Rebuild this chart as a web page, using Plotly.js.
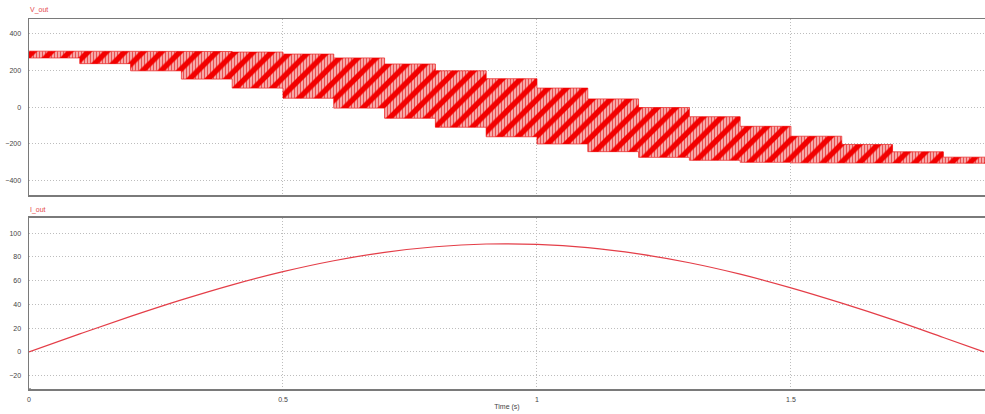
<!DOCTYPE html>
<html>
<head>
<meta charset="utf-8">
<script src="https://cdn.plot.ly/plotly-3.0.1.min.js"></script>
<style>
  html, body { margin: 0; padding: 0; background: #ffffff; }
  #chart { width: 985px; height: 414px; }
</style>
</head>
<body>
<div id="chart"></div>
<script>
// Switching-level edges of the output voltage (s)
const segEdges = [0, 0.1, 0.2, 0.3, 0.4, 0.5, 0.6, 0.7, 0.8, 0.9, 1.0,
                  1.1, 1.2, 1.3, 1.4, 1.5, 1.6, 1.7, 1.8, 1.9];
// Upper and lower switching level in each interval (V)
const vTop    = [305, 305, 305, 303, 300, 289, 268, 235, 198, 155, 104,
                 45, -2, -52, -104, -158, -203, -243, -272];
const vBottom = [268, 237, 198, 153, 104, 49, -5, -60, -109, -161, -200,
                 -242, -273, -289, -300, -303, -305, -305, -305];

// Output current samples
const tI   = [0, 0.1, 0.2, 0.3, 0.4, 0.5, 0.6, 0.7, 0.8, 0.9, 1.0,
              1.1, 1.2, 1.3, 1.4, 1.5, 1.6, 1.7, 1.8, 1.88];
const iOut = [0, 15.1, 29.8, 43.7, 56.4, 67.5, 76.7, 83.8, 88.5, 90.8, 90.5,
              87.8, 82.5, 75.0, 65.4, 53.9, 41.0, 27.1, 12.1, 0];

// Tick values
const xTicks  = [0, 0.5, 1, 1.5];
const vTicks  = [-400, -200, 0, 200, 400];
const iTicks  = [-20, 0, 20, 40, 60, 80, 100];

// Outline of the switching band: along the upper levels, back along the lower ones
const bandX = [], bandY = [];
for (let k = 0; k < vTop.length; k++) {
  bandX.push(segEdges[k], segEdges[k + 1]);
  bandY.push(vTop[k], vTop[k]);
}
for (let k = vBottom.length - 1; k >= 0; k--) {
  bandX.push(segEdges[k + 1], segEdges[k]);
  bandY.push(vBottom[k], vBottom[k]);
}
bandX.push(bandX[0]);
bandY.push(bandY[0]);

const traces = [
  {
    x: bandX, y: bandY, xaxis: 'x', yaxis: 'y',
    type: 'scatter', mode: 'lines', fill: 'toself',
    fillcolor: 'rgb(244,150,150)',
    fillpattern: { shape: '|', fgcolor: 'rgb(232,80,80)', bgcolor: 'rgb(247,168,168)', size: 3, solidity: 0.35 },
    line: { color: 'rgb(236,50,50)', width: 0.8 },
    hoverinfo: 'skip'
  },
  {
    x: bandX, y: bandY, xaxis: 'x', yaxis: 'y',
    type: 'scatter', mode: 'lines', fill: 'toself',
    fillcolor: 'rgba(0,0,0,0)',
    fillpattern: { shape: '/', fgcolor: 'rgb(242,0,0)', bgcolor: 'rgba(0,0,0,0)', size: 13, solidity: 0.42 },
    line: { width: 0 },
    hoverinfo: 'skip'
  },
  {
    x: tI, y: iOut, xaxis: 'x2', yaxis: 'y2',
    type: 'scatter', mode: 'lines',
    line: { color: 'rgb(228,62,72)', width: 1.2, shape: 'spline', smoothing: 1 },
    hoverinfo: 'skip'
  }
];

const tickFont = { family: 'Liberation Sans, Arial, sans-serif', size: 7, color: '#444444' };
const gridCommon = {
  showgrid: true, gridcolor: '#bdbdbd', gridwidth: 1, griddash: '1px,2px',
  zeroline: false, showline: true, linecolor: '#7a7a7a', linewidth: 1.5,
  ticks: '', tickfont: tickFont, fixedrange: true
};

const layout = {
  width: 985, height: 414,
  margin: { l: 29, r: 0, t: 19, b: 25, pad: 0 },
  paper_bgcolor: '#ffffff', plot_bgcolor: '#ffffff',
  showlegend: false,
  xaxis: Object.assign({}, gridCommon, {
    domain: [0, 1], anchor: 'y', range: [0, 1.882],
    tickvals: xTicks, showticklabels: false, mirror: true
  }),
  yaxis: Object.assign({}, gridCommon, {
    domain: [0.5243, 1], anchor: 'x', range: [-478, 480],
    tickvals: vTicks, ticklabelstandoff: 5
  }),
  xaxis2: Object.assign({}, gridCommon, {
    domain: [0, 1], anchor: 'y2', range: [0, 1.882],
    tickvals: xTicks, ticktext: ['0', '0.5', '1', '1.5'], mirror: true,
    ticklabelstandoff: 3,
    title: { text: 'Time (s)', font: { family: 'Liberation Sans, Arial, sans-serif', size: 7, color: '#444444' }, standoff: 2 }
  }),
  yaxis2: Object.assign({}, gridCommon, {
    domain: [0, 0.4622], anchor: 'x2', range: [-31.3, 112.7],
    tickvals: iTicks, ticklabelstandoff: 5
  }),
  annotations: [
    { text: 'V_out', xref: 'paper', yref: 'paper', x: -0.001, y: 1.0243,
      xanchor: 'left', yanchor: 'middle', showarrow: false,
      font: { family: 'Liberation Sans, Arial, sans-serif', size: 7, color: '#e5484d' } },
    { text: 'I_out', xref: 'paper', yref: 'paper', x: -0.001, y: 0.4838,
      xanchor: 'left', yanchor: 'middle', showarrow: false,
      font: { family: 'Liberation Sans, Arial, sans-serif', size: 7, color: '#e5484d' } }
  ],
  shapes: [
    // small cursor marker at the origin of the current plot
    { type: 'rect', xref: 'x2', yref: 'y2', xsizemode: 'pixel', ysizemode: 'pixel',
      xanchor: 0, yanchor: -31.3, x0: -2.5, x1: 2, y0: -4, y1: 0,
      line: { color: '#555555', width: 1 }, fillcolor: '#ffffff' }
  ]
};

Plotly.newPlot('chart', traces, layout, { staticPlot: true, displayModeBar: false });
</script>
</body>
</html>
